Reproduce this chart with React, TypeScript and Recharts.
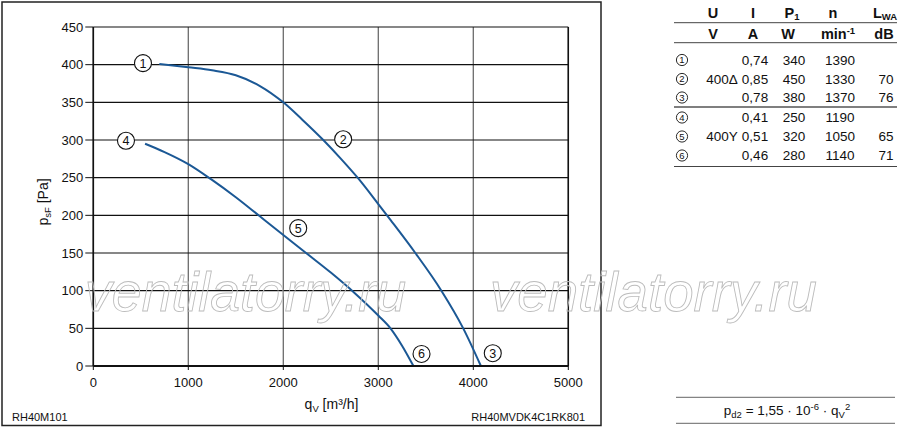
import React from "react";
import {
  CartesianGrid,
  ComposedChart,
  Label,
  Line,
  ReferenceLine,
  Scatter,
  XAxis,
  YAxis,
} from "recharts";

const FONT = '"Liberation Sans", Arial, Helvetica, sans-serif';
const CURVE_BLUE = "#1b5895";
const INK = "#111";

const FLOW_TICKS = [0, 1000, 2000, 3000, 4000, 5000];
const PRESSURE_TICKS = [0, 50, 100, 150, 200, 250, 300, 350, 400, 450];

// 400Δ curve, points 1 → 2 → 3
const DELTA_Q = [695, 1000, 1250, 1500, 1750, 2000, 2200, 2421, 2600, 2789, 3000, 3128, 3390, 3664, 3894, 4080];
const DELTA_P = [401, 396.5, 392.5, 386, 372, 350, 327, 300, 276, 249, 215, 194, 150, 100, 50, 0];

// 400Y curve, points 4 → 5 → 6
const STAR_Q = [545, 750, 1000, 1250, 1500, 1750, 2000, 2250, 2500, 2750, 3000, 3128, 3250, 3370];
const STAR_P = [295, 284, 268, 247, 224, 199, 174, 149, 124, 97, 67, 50, 27, 0];

// circled operating-point badges
const POINT_IDS = ["1", "2", "3", "4", "5", "6"];
const POINT_Q = [523, 2630, 4205, 344, 2157, 3455];
const POINT_P = [402, 301, 17, 299, 183, 16];

// data table (right side)
const ROW_U = ["", "400Δ", "", "", "400Y", ""];
const ROW_I = ["0,74", "0,85", "0,78", "0,41", "0,51", "0,46"];
const ROW_P1 = ["340", "450", "380", "250", "320", "280"];
const ROW_N = ["1390", "1330", "1370", "1190", "1050", "1140"];
const ROW_LWA = ["", "70", "76", "", "65", "71"];

const deltaCurve = DELTA_Q.map((q, i) => ({ q, p: DELTA_P[i] }));
const starCurve = STAR_Q.map((q, i) => ({ q, p: STAR_P[i] }));
const badges = POINT_IDS.map((id, i) => ({ id, q: POINT_Q[i], p: POINT_P[i] }));

function PointBadge(props: any) {
  const { cx, cy, payload } = props;
  if (cx == null || cy == null) return null;
  return (
    <g>
      <circle cx={cx} cy={cy} r={8.5} fill="#fff" stroke={INK} strokeWidth={1.1} />
      <text x={cx} y={cy + 4.4} textAnchor="middle" fontSize={12.5} fontFamily={FONT} fill={INK}>
        {payload.id}
      </text>
    </g>
  );
}

function SmallBadge({ x, y, id }: { x: number; y: number; id: string }) {
  return (
    <g>
      <circle cx={x} cy={y} r={5.6} fill="#fff" stroke={INK} strokeWidth={0.9} />
      <text x={x} y={y + 3.4} textAnchor="middle" fontSize={9.5} fontFamily={FONT} fill={INK}>
        {id}
      </text>
    </g>
  );
}

const ROW_BASE = [64.5, 83.5, 102, 122, 141, 160];

function SpecTable() {
  return (
    <g fontFamily={FONT} fill={INK}>
      <g fontSize={14.5} fontWeight="bold" textAnchor="middle">
        <text x={713} y={18}>U</text>
        <text x={753} y={18}>I</text>
        <text x={792} y={18}>
          P<tspan fontSize={9.5} dy={2}>1</tspan>
        </text>
        <text x={833} y={18}>n</text>
        <text x={885} y={18}>
          L<tspan fontSize={9.5} dy={2}>WA</tspan>
        </text>
        <text x={713} y={38.5}>V</text>
        <text x={753} y={38.5}>A</text>
        <text x={788} y={38.5}>W</text>
        <text x={838} y={38.5}>
          min<tspan fontSize={9.5} dy={-5}>-1</tspan>
        </text>
        <text x={884} y={38.5}>dB</text>
      </g>
      <line x1={674} x2={897} y1={22.7} y2={22.7} stroke="#444" strokeWidth={1} />
      <line x1={674} x2={897} y1={42.7} y2={42.7} stroke="#444" strokeWidth={1} />
      <line x1={674} x2={897} y1={107} y2={107} stroke="#000" strokeWidth={1.2} />
      <line x1={674} x2={897} y1={166.5} y2={166.5} stroke="#444" strokeWidth={1} />
      {POINT_IDS.map((id, i) => (
        <g key={id} fontSize={13.5} textAnchor="middle">
          <SmallBadge x={682} y={ROW_BASE[i] - 4.5} id={id} />
          <text x={722} y={ROW_BASE[i]}>{ROW_U[i]}</text>
          <text x={755} y={ROW_BASE[i]}>{ROW_I[i]}</text>
          <text x={794} y={ROW_BASE[i]}>{ROW_P1[i]}</text>
          <text x={840} y={ROW_BASE[i]}>{ROW_N[i]}</text>
          <text x={886} y={ROW_BASE[i]}>{ROW_LWA[i]}</text>
        </g>
      ))}
    </g>
  );
}

export default function App() {
  return (
    <div
      style={{
        position: "absolute",
        left: 0,
        top: 0,
        width: 900,
        height: 429,
        background: "#fff",
        fontFamily: FONT,
      }}
    >
      <div style={{ position: "absolute", left: 0, top: 0 }}>
        <ComposedChart
          width={600}
          height={429}
          margin={{ top: 27, right: 31.7, bottom: 33, left: 33.3 }}
        >
          <CartesianGrid horizontal={false} vertical stroke="#6b6b6b" strokeWidth={1.3} fill="none" />
          <CartesianGrid horizontal vertical={false} stroke={INK} strokeWidth={1.1} fill="none" />
          <XAxis
            type="number"
            dataKey="q"
            domain={[0, 5000]}
            ticks={FLOW_TICKS}
            interval={0}
            allowDataOverflow
            height={30}
            tickSize={4}
            tickMargin={7.5}
            stroke={INK}
            axisLine={{ stroke: INK, strokeWidth: 2 }}
            tickLine={{ stroke: INK, strokeWidth: 1 }}
            tick={{ fill: INK, fontSize: 13, fontFamily: FONT }}
          >
            <Label
              content={() => (
                <text x={331.5} y={408.5} textAnchor="middle" fontSize={14} fontFamily={FONT} fill={INK}>
                  q<tspan fontSize={9.5} dy={3}>V</tspan>
                  <tspan dy={-3}> [m³/h]</tspan>
                </text>
              )}
            />
          </XAxis>
          <YAxis
            type="number"
            domain={[0, 450]}
            ticks={PRESSURE_TICKS}
            interval={0}
            width={60}
            tickSize={8}
            tickMargin={2}
            axisLine={{ stroke: INK, strokeWidth: 1.6 }}
            tickLine={{ stroke: INK, strokeWidth: 1 }}
            tick={{ fill: INK, fontSize: 13, fontFamily: FONT }}
          >
            <Label
              content={() => (
                <text
                  transform="translate(48 202) rotate(-90)"
                  textAnchor="middle"
                  fontSize={14}
                  fontFamily={FONT}
                  fill={INK}
                >
                  p<tspan fontSize={9.5} dy={3}>sF</tspan>
                  <tspan dy={-3}> [Pa]</tspan>
                </text>
              )}
            />
          </YAxis>
          <ReferenceLine x={FLOW_TICKS[FLOW_TICKS.length - 1]} stroke={INK} strokeWidth={1.5} />
          <Line
            data={deltaCurve}
            dataKey="p"
            type="monotone"
            stroke={CURVE_BLUE}
            strokeWidth={2}
            dot={false}
            isAnimationActive={false}
          />
          <Line
            data={starCurve}
            dataKey="p"
            type="monotone"
            stroke={CURVE_BLUE}
            strokeWidth={2}
            dot={false}
            isAnimationActive={false}
          />
          <Scatter data={badges} dataKey="p" shape={PointBadge} isAnimationActive={false} />
        </ComposedChart>
      </div>
      <svg
        width={900}
        height={429}
        style={{ position: "absolute", left: 0, top: 0, pointerEvents: "none" }}
      >
        <rect x={2} y={2} width={599} height={423.5} fill="none" stroke="#222" strokeWidth={1.5} />
        <text x={12} y={421} fontSize={11} fontFamily={FONT} fill={INK}>
          RH40M101
        </text>
        <text x={585} y={421} textAnchor="end" fontSize={11} fontFamily={FONT} fill={INK}>
          RH40MVDK4C1RK801
        </text>
        <SpecTable />
        <line x1={676} x2={895} y1={397.3} y2={397.3} stroke="#666" strokeWidth={1} />
        <line x1={676} x2={895} y1={423.3} y2={423.3} stroke="#666" strokeWidth={1} />
        <text x={787} y={415} textAnchor="middle" fontSize={13.5} fontFamily={FONT} fill={INK}>
          p<tspan fontSize={9.5} dy={3}>d2</tspan>
          <tspan dy={-3}> = 1,55 · 10</tspan>
          <tspan fontSize={9.5} dy={-5}>-6</tspan>
          <tspan dy={5}> · q</tspan>
          <tspan fontSize={9.5} dy={3}>V</tspan>
          <tspan fontSize={9.5} dy={-8}>2</tspan>
        </text>
        <g
          fontFamily={FONT}
          fontStyle="italic"
          fontSize={55}
          fill="none"
          stroke="#bcbcbc"
          strokeWidth={0.9}
        >
          <text x={85} y={311} textLength={321} lengthAdjust="spacingAndGlyphs">
            ventilatorry.ru
          </text>
          <text x={490} y={311} textLength={327} lengthAdjust="spacingAndGlyphs">
            ventilatorry.ru
          </text>
        </g>
      </svg>
    </div>
  );
}
